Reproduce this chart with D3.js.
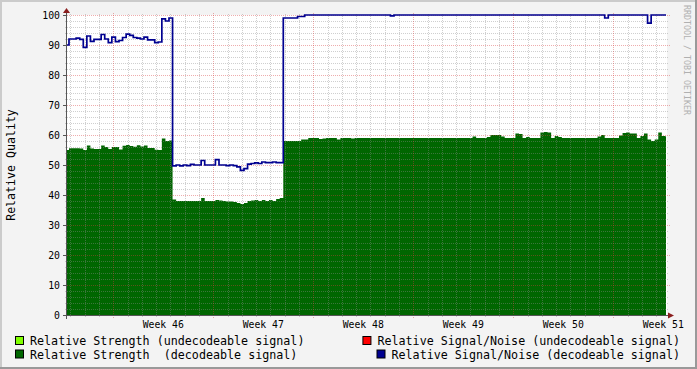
<!DOCTYPE html>
<html>
<head>
<meta charset="utf-8">
<script src="https://d3js.org/d3.v7.min.js"></script>
<style>
  body { margin: 0; background: #fff; }
  svg text { font-family: "DejaVu Sans Mono", monospace; }
</style>
</head>
<body>
<svg id="chart" width="697" height="369"></svg>
<script>
// samples every 6 hours, starting at dataStart
var dataStart = new Date(2011, 10, 10, 15, 36);
var stepHours = 6;

var snrDecodeable = [
  90, 92, 92, 92.3, 91.9, 89.2, 93, 91.2, 91.9, 91.9,
  93.5, 92, 90.8, 92.6, 91.1, 91.5, 92.5, 93.6, 93.2, 92.5,
  92.3, 92, 92.6, 91.7, 91.7, 90.8, 91, 98.7, 98, 99,
  49.7, 50, 49.7, 50, 49.8, 50.2, 50, 50, 51.5, 50,
  50, 50, 51.8, 50, 50, 49.8, 50, 49.8, 49.4, 48.2,
  48.8, 50.3, 50.5, 50.7, 50.5, 51, 50.8, 50.8, 51, 50.8,
  50.8, 99, 99, 99, 99, 99.5, 99.5, 100, 100, 100,
  100, 100, 100, 100, 100, 100, 100, 100, 100, 100,
  100, 100, 100, 100, 100, 100, 100, 100, 100, 100,
  100, 99.7, 100, 100, 100, 100, 100, 100, 100, 100,
  100, 100, 100, 100, 100, 100, 100, 100, 100, 100,
  100, 100, 100, 100, 100, 100, 100, 100, 100, 100,
  100, 100, 100, 100, 100, 100, 100, 100, 100, 100,
  100, 100, 100, 100, 100, 100, 100, 100, 100, 100,
  100, 100, 100, 100, 100, 100, 100, 100, 100, 100,
  100, 99, 100, 100, 100, 100, 100, 100, 100, 100,
  100, 100, 100, 97.3, 100, 100, 100, 100, 100
];

var strengthDecodeable = [
  55, 55.6, 55.6, 55.6, 55.5, 55, 56.5, 55.5, 55.3, 55.3,
  56.5, 56, 55.3, 56, 56, 55.2, 56.4, 56.7, 56.3, 56.1,
  56.6, 56.2, 56.5, 55.7, 55.7, 55.1, 55, 58.8, 58, 58.2,
  38.5, 38, 38, 38, 38, 38, 38, 38, 39, 38,
  38, 38, 38.3, 38.2, 38, 37.8, 37.8, 37.7, 37.3, 37,
  37.3, 38, 38.2, 38.3, 38, 38.3, 38, 38.3, 38, 38.7,
  39, 58, 58, 58, 58, 58, 58.5, 58.5, 59, 59,
  59, 58.7, 58.8, 59, 59, 59, 58.5, 59, 59, 59,
  58.8, 59, 59, 59, 59, 59, 59, 59, 59, 59,
  59, 59, 59, 59, 59, 59, 59, 59, 59, 59,
  59, 59, 59, 59, 59, 59, 59, 59, 59, 59,
  59, 59, 59, 59, 59.5, 59, 59, 59, 59.3, 60,
  60, 60, 59.5, 59, 59, 59, 60.5, 60.3, 59, 59.3,
  59, 59, 59, 60.8, 61, 60.8, 59, 59.7, 59.3, 59,
  59, 59, 59, 59, 59, 59, 59, 59, 59, 59.5,
  60, 59, 59, 59, 59, 59.8, 60.7, 60.8, 60.5, 60.5,
  59, 59.7, 60.5, 58.5, 58, 58.5, 60.8, 59.7, 59.5
];

var yMajorTicks = [0, 10, 20, 30, 40, 50, 60, 70, 80, 90, 100];
var legendLeft = ["Relative Strength (undecodeable signal)", "Relative Strength  (decodeable signal)"];
var legendRight = ["Relative Signal/Noise (undecodeable signal)", "Relative Signal/Noise (decodeable signal)"];
var legendLeftColors = ["#80ff00", "#006600"];
var legendRightColors = ["#ff0000", "#000090"];

var W = 697, H = 369;
var pLeft = 67, pRight = 667, pTop = 15, pBottom = 315;
var plotStart = new Date(2011, 10, 10, 18, 15);
var plotEnd = d3.timeDay.offset(plotStart, 42);

var svg = d3.select("#chart");

// background and frame
svg.append("rect").attr("width", W).attr("height", H).attr("fill", "#f3f3f3");
svg.append("path").attr("d", `M1,${H} V1 H${W}`).attr("fill", "none").attr("stroke", "#cbcbcb").attr("stroke-width", 2);
svg.append("path").attr("d", `M${W-1},0 V${H-1} H0`).attr("fill", "none").attr("stroke", "#999").attr("stroke-width", 2);
svg.append("rect").attr("x", pLeft).attr("y", pTop).attr("width", pRight - pLeft).attr("height", pBottom - pTop).attr("fill", "#fff");

var x = d3.scaleTime().domain([plotStart, plotEnd]).range([pLeft, pRight]);
var y = d3.scaleLinear().domain([0, 100]).range([pBottom, pTop]);

function toPoints(vals) {
  var pts = vals.map((v, i) => ({ t: d3.timeHour.offset(dataStart, stepHours * i), v: v }));
  pts.push({ t: d3.timeHour.offset(dataStart, stepHours * vals.length), v: vals[vals.length - 1] });
  return pts;
}

svg.append("clipPath").attr("id", "clipArea")
  .append("rect").attr("x", pLeft).attr("y", pTop).attr("width", pRight - pLeft - 1).attr("height", pBottom - pTop);
svg.append("clipPath").attr("id", "clipLine")
  .append("rect").attr("x", pLeft).attr("y", 0).attr("width", pRight - pLeft - 1).attr("height", pBottom);

var area = d3.area().x(d => x(d.t)).y0(y(0)).y1(d => y(d.v)).curve(d3.curveStepAfter);
var line = d3.line().x(d => x(d.t)).y(d => y(d.v)).curve(d3.curveStepAfter);

svg.append("path").datum(toPoints(strengthDecodeable))
  .attr("clip-path", "url(#clipArea)")
  .attr("fill", "#006600").attr("d", area);

// grid
var minorDays = x.ticks(d3.timeDay.every(1)).filter(d => d.getDay() !== 1);
var mondays = d3.timeMonday.range(plotStart, plotEnd);
var minorY = d3.range(2, 100, 2).filter(v => v % 10 !== 0);

function styleGrid(g, color) {
  g.select(".domain").remove();
  g.selectAll(".tick line").attr("stroke", color).attr("stroke-dasharray", "1,1").attr("shape-rendering", "crispEdges");
  g.selectAll(".tick text").remove();
}

svg.append("g").attr("transform", `translate(0,${pBottom + 2})`)
  .call(d3.axisBottom(x).tickValues(minorDays).tickSize(-(pBottom - pTop + 4)).tickFormat(""))
  .call(g => styleGrid(g, "rgba(140,140,140,0.42)"));
svg.append("g").attr("transform", `translate(${pLeft - 2},0)`)
  .call(d3.axisLeft(y).tickValues(minorY).tickSize(-(pRight - pLeft + 4)).tickFormat(""))
  .call(g => styleGrid(g, "rgba(140,140,140,0.42)"));
svg.append("g").attr("transform", `translate(0,${pBottom + 3})`)
  .call(d3.axisBottom(x).tickValues(mondays).tickSize(-(pBottom - pTop + 6)).tickFormat(""))
  .call(g => styleGrid(g, "rgba(215,60,60,0.42)"));
svg.append("g").attr("transform", `translate(${pLeft - 4},0)`)
  .call(d3.axisLeft(y).tickValues(yMajorTicks.slice(1)).tickSize(-(pRight - pLeft + 7)).tickFormat(""))
  .call(g => styleGrid(g, "rgba(215,60,60,0.42)"));

// signal/noise line
svg.append("path").datum(toPoints(snrDecodeable))
  .attr("clip-path", "url(#clipLine)")
  .attr("fill", "none").attr("stroke", "#000090").attr("stroke-width", 1.7)
  .attr("d", line);

// axes
svg.append("line").attr("x1", pLeft - 0.5).attr("x2", pLeft - 0.5).attr("y1", pBottom + 4).attr("y2", pTop - 4)
  .attr("stroke", "#555").attr("stroke-width", 1);
svg.append("line").attr("x1", pLeft - 4).attr("x2", pRight + 3).attr("y1", pBottom + 0.5).attr("y2", pBottom + 0.5)
  .attr("stroke", "#555").attr("stroke-width", 1);
svg.append("path").attr("d", `M${pLeft - 4},${pTop - 2} L${pLeft + 3},${pTop - 2} L${pLeft - 0.5},${pTop - 7} Z`).attr("fill", "#8b1f1f");
svg.append("path").attr("d", `M${pRight + 1},${pBottom - 2.5} L${pRight + 1},${pBottom + 3.5} L${pRight + 7},${pBottom + 0.5} Z`).attr("fill", "#8b1f1f");

// y tick labels
var yAx = svg.append("g").attr("transform", `translate(${pLeft - 1},0)`)
  .call(d3.axisLeft(y).tickValues(yMajorTicks).tickSize(3).tickPadding(3).tickFormat(d3.format("d")));
yAx.select(".domain").remove();
yAx.selectAll(".tick line").attr("stroke", "#555");
yAx.selectAll(".tick text").attr("font-size", "9.8px").attr("fill", "#000").attr("font-family", "DejaVu Sans Mono");

// x labels, mid-week
var weekFmt = d3.timeFormat("Week %V");
svg.append("g").selectAll("text").data(mondays).join("text")
  .attr("x", d => x(d3.timeHour.offset(d, 84)))
  .attr("y", pBottom + 13)
  .attr("text-anchor", "middle").attr("font-size", "9.8px").attr("fill", "#000")
  .text(d => weekFmt(d));

// y label
svg.append("text").attr("transform", "translate(15,165) rotate(-90)")
  .attr("text-anchor", "middle").attr("font-size", "11.6px").attr("fill", "#000")
  .text("Relative Quality");

// watermark
svg.append("text").attr("transform", "translate(683.5,5) rotate(90)")
  .attr("font-size", "8.3px").attr("fill", "#b0b0b0")
  .text("RRDTOOL / TOBI OETIKER");

// legend
var rowY = [345, 358.5];
legendLeft.forEach((lab, i) => {
  svg.append("rect").attr("x", 15.5).attr("y", rowY[i] - 8.5).attr("width", 8).attr("height", 8)
    .attr("fill", legendLeftColors[i]).attr("stroke", "#000").attr("stroke-width", 1);
  svg.append("text").attr("x", 30).attr("y", rowY[i]).attr("font-size", "11.7px").attr("fill", "#000")
    .style("white-space", "pre").text(lab);
});
legendRight.forEach((lab, i) => {
  var t = svg.append("text").attr("x", 680).attr("y", rowY[i]).attr("text-anchor", "end")
    .attr("font-size", "11.7px").attr("fill", "#000").style("white-space", "pre").text(lab);
  var w = t.node().getComputedTextLength();
  svg.append("rect").attr("x", 680 - w - 14.5).attr("y", rowY[i] - 8.5).attr("width", 8).attr("height", 8)
    .attr("fill", legendRightColors[i]).attr("stroke", "#000").attr("stroke-width", 1);
});
</script>
</body>
</html>
